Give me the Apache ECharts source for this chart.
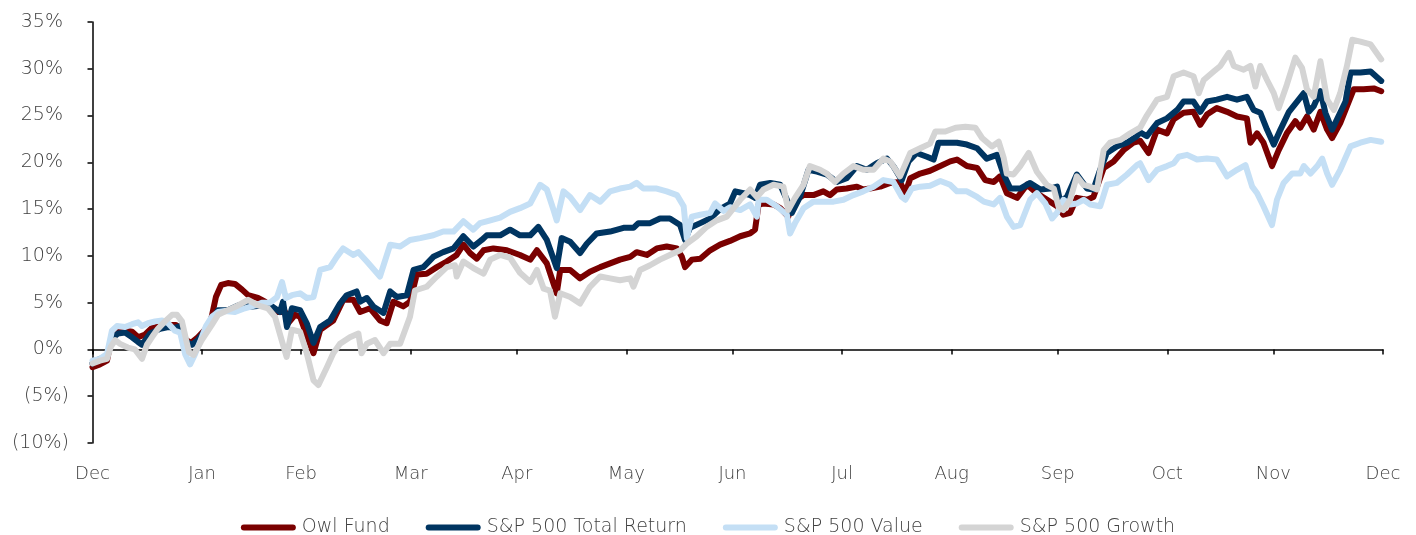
<!DOCTYPE html>
<html>
<head>
<meta charset="utf-8">
<script src="https://cdn.jsdelivr.net/npm/echarts@6/dist/echarts.min.js"></script>
<style>
  html, body { margin: 0; padding: 0; background: #ffffff; }
  #chart { width: 1416px; height: 535px; }
</style>
</head>
<body>
<div id="chart"></div>
<script>
// Cumulative return (%) by calendar day, counted from 31 Dec 2020.

// Month-end ticks and their labels
const tickDays = [0, 31, 59, 90, 120, 151, 181, 212, 243, 273, 304, 334, 365];
const tickLabels = ['Dec', 'Jan', 'Feb', 'Mar', 'Apr', 'May', 'Jun', 'Jul', 'Aug', 'Sep', 'Oct', 'Nov', 'Dec'];

// Percent ticks on the value axis
const yTicks = [-10, -5, 0, 5, 10, 15, 20, 25, 30, 35];

const seriesNames = ['Owl Fund', 'S&P 500 Total Return', 'S&P 500 Value', 'S&P 500 Growth'];

// Owl Fund
const owlDays = [0,2.1,4.1,5.5,6.9,9.2,11.2,12.9,14.9,16.8,19.1,21.4,23.6,24.8,26.5,27.9,29.8,31.8,33.5,34.9,36.4,38.3,40.3,42.3,44.0,46.8,48.8,50.8,52.5,54.5,55.3,57.3,58.7,60.6,62.5,64.4,68.1,70.9,73.8,75.7,78.5,81.3,83.2,85.1,87.9,89.8,91.7,94.5,97.4,100.2,103.0,104.9,106.8,108.7,110.6,113.4,117.2,120.9,123.8,125.7,128.5,131.3,132.3,135.1,137.9,140.7,143.6,146.4,149.2,152.1,153.9,156.8,159.6,162.4,165.3,166.7,167.6,169.5,171.9,174.7,177.5,180.3,183.2,186.0,187.4,188.4,189.8,192.6,194.5,196.8,198.3,201.1,203.9,206.7,208.6,210.5,213.3,216.2,218.0,219.9,222.8,225.6,228.4,229.9,231.3,234.1,236.9,239.8,242.6,244.5,247.3,250.2,252.5,254.9,256.7,258.6,261.5,264.3,267.1,270.0,272.8,274.6,276.5,278.4,281.3,283.1,286.0,288.8,291.6,294.4,296.3,298.7,301.1,303.9,305.8,308.6,311.4,313.3,315.2,318.0,320.9,323.7,326.5,327.5,329.4,331.2,333.6,335.5,337.8,340.2,341.6,343.5,345.4,347.3,349.2,350.6,352.9,356.7,359.5,362.4,364.5];
const owlPct = [-1.9,-1.6,-1.2,1.5,2.3,2.0,1.9,1.3,1.6,2.3,2.5,2.6,2.6,2.2,1.0,0.7,1.3,2.1,3.1,5.6,6.9,7.1,7.0,6.4,5.8,5.5,5.1,4.2,4.0,4.0,2.8,3.7,3.5,1.5,-0.4,2.1,3.1,5.3,5.3,4.0,4.4,3.1,2.8,5.1,4.6,5.1,8.0,8.1,8.8,9.4,10.1,11.2,10.3,9.7,10.6,10.8,10.6,10.1,9.6,10.6,9.2,6.0,8.5,8.5,7.6,8.3,8.8,9.2,9.6,9.9,10.4,10.1,10.8,11.0,10.8,9.9,8.8,9.6,9.7,10.6,11.2,11.6,12.1,12.4,12.8,15.5,15.6,15.5,15.1,14.2,15.8,16.5,16.5,16.9,16.5,17.1,17.2,17.4,17.1,17.2,17.4,17.8,17.9,16.7,18.3,18.8,19.1,19.6,20.1,20.3,19.6,19.4,18.1,17.9,18.5,16.7,16.2,17.6,16.7,16.0,15.3,14.4,14.6,16.2,16.0,16.3,19.4,20.1,21.3,22.1,22.3,21.0,23.5,23.1,24.6,25.3,25.4,24.0,25.1,25.8,25.4,24.9,24.7,22.1,23.1,22.1,19.6,21.3,23.1,24.4,23.7,24.9,23.5,25.4,23.5,22.6,24.2,27.8,27.8,27.9,27.6];

// S&P 500 Total Return
const totalDays = [0,2.1,4.1,5.5,7.2,9.2,11.2,12.9,14.0,16.3,19.1,21.4,23.3,24.8,26.5,28.1,29.8,31.8,33.8,35.5,38.3,41.2,45.1,48.0,50.8,53.0,53.9,55.0,56.4,58.7,60.6,62.5,64.4,67.2,70.0,71.9,74.7,75.7,77.6,79.4,82.3,84.2,86.1,88.9,90.8,93.6,96.4,99.2,102.1,104.9,107.7,110.1,111.5,115.3,118.1,120.9,123.8,126.1,128.5,131.3,132.7,135.1,137.9,139.8,142.6,146.4,150.2,153.0,154.4,157.7,160.5,163.3,166.2,167.6,169.0,171.9,174.7,177.5,180.3,181.8,184.1,186.0,187.4,188.8,191.7,194.5,196.4,197.8,200.1,202.5,204.9,207.7,210.5,213.3,216.2,219.0,221.8,224.7,226.5,228.9,230.8,233.1,236.0,237.9,239.3,242.6,244.5,247.3,250.2,252.9,255.8,257.7,259.6,262.4,265.2,268.1,270.9,272.8,273.7,275.6,278.4,281.3,283.1,285.0,286.9,289.7,292.6,295.4,296.3,298.2,301.1,303.9,306.8,308.6,311.4,313.3,315.2,318.0,320.9,323.7,326.5,328.4,330.3,332.2,334.1,336.0,338.4,340.7,342.6,344.0,345.4,347.3,348.7,350.6,352.0,354.4,355.8,358.6,361.5,364.5];
const totalPct = [-1.5,-1.0,-0.8,1.2,1.7,1.8,1.3,0.8,0.5,1.7,2.2,2.4,2.3,2.5,0.8,0.5,1.0,2.0,3.1,4.2,4.2,4.7,4.6,4.7,4.6,4.0,5.1,2.4,4.4,4.2,2.8,0.7,2.4,3.1,4.9,5.8,6.2,5.1,5.5,4.6,3.9,6.2,5.6,5.8,8.5,8.8,9.9,10.4,10.8,12.1,11.0,11.7,12.2,12.2,12.8,12.2,12.2,13.1,11.7,8.7,11.9,11.5,10.3,11.3,12.4,12.6,13.0,13.0,13.5,13.5,14.0,14.0,13.3,11.7,13.0,13.5,14.0,15.0,15.6,16.9,16.7,16.5,16.2,17.6,17.8,17.6,16.0,14.6,16.3,19.2,19.0,18.7,17.9,18.3,19.6,19.2,19.9,20.4,19.6,18.1,20.1,21.0,20.6,20.3,22.1,22.1,22.1,21.9,21.5,20.4,20.8,18.7,17.2,17.2,17.8,17.1,17.2,17.4,15.8,16.3,18.7,17.2,17.1,19.2,21.0,21.7,22.1,22.8,23.2,22.8,24.2,24.7,25.6,26.5,26.5,25.4,26.5,26.7,27.0,26.7,27.0,25.6,25.3,23.5,21.9,23.5,25.4,26.5,27.4,25.4,26.0,27.6,25.3,23.5,24.6,26.5,29.6,29.6,29.7,28.7];

// S&P 500 Value
const valueDays = [0,2.1,4.1,5.5,6.9,9.2,11.2,12.9,14.0,15.7,17.7,19.7,21.4,23.3,24.8,26.2,27.6,29.0,30.4,32.1,33.8,35.5,37.5,40.3,43.1,46.0,47.9,50.2,52.2,53.6,54.7,56.4,58.7,60.6,62.5,64.4,67.2,69.1,70.9,73.8,75.2,77.6,81.3,84.2,87.0,89.8,92.7,96.4,99.2,102.1,104.9,107.7,109.6,111.5,115.3,118.1,120.9,123.8,126.6,128.5,130.4,131.3,133.2,135.1,137.9,140.7,143.6,146.4,149.2,152.1,153.9,155.8,159.6,162.4,165.3,167.2,168.1,169.5,171.9,174.7,176.1,178.5,180.3,183.2,186.0,187.9,188.4,190.7,193.5,196.4,197.3,198.7,201.1,203.9,206.7,209.6,212.4,215.2,218.0,220.9,223.7,226.5,228.9,229.9,231.7,234.1,236.9,239.8,242.6,244.5,247.3,250.2,252.1,254.9,256.7,258.6,260.5,262.4,265.2,267.1,269.5,271.4,272.8,274.6,276.5,278.4,280.3,282.2,285.0,286.9,289.7,292.6,295.4,296.3,298.7,301.1,303.9,305.8,307.2,309.6,312.4,315.2,318.0,320.9,323.7,326.1,328.0,329.4,331.2,333.6,335.0,336.9,339.3,341.6,342.6,344.5,346.4,347.8,349.2,350.6,352.9,355.8,358.6,361.5,364.5];
const valuePct = [-1.2,-1.0,-0.5,2.0,2.5,2.4,2.7,2.9,2.5,2.8,3.0,3.1,2.8,2.0,1.8,-0.5,-1.6,-0.5,0.8,2.5,3.5,4.0,4.1,4.0,4.4,4.7,5.0,5.0,5.6,7.2,5.5,5.8,6.0,5.5,5.6,8.5,8.8,9.9,10.8,10.1,10.4,9.4,7.8,11.2,11.0,11.7,11.9,12.2,12.6,12.6,13.7,12.8,13.5,13.7,14.1,14.7,15.1,15.6,17.6,17.1,14.9,13.8,16.9,16.3,14.9,16.5,15.8,16.9,17.2,17.4,17.8,17.2,17.2,16.9,16.5,15.3,11.9,14.2,14.4,14.6,15.6,14.8,15.2,14.9,15.5,14.2,16.0,16.0,15.3,14.4,12.4,13.5,15.1,15.8,15.8,15.8,16.0,16.5,16.9,17.4,18.1,17.9,16.3,16.0,17.2,17.4,17.5,18.0,17.6,16.9,16.9,16.3,15.8,15.5,16.2,14.2,13.1,13.3,16.0,16.7,15.6,14.0,14.6,16.0,15.5,15.6,16.0,15.5,15.3,17.6,17.8,18.7,19.7,19.9,18.1,19.2,19.6,19.9,20.6,20.8,20.3,20.4,20.3,18.5,19.2,19.7,17.4,16.7,15.3,13.3,16.0,17.8,18.8,18.8,19.6,18.8,19.6,20.4,18.8,17.6,19.2,21.7,22.1,22.4,22.2];

// S&P 500 Growth
const growthDays = [0,2.1,4.1,5.2,6.4,7.8,10.0,12.0,14.0,15.4,16.8,18.5,20.5,22.5,23.9,25.3,26.5,27.3,28.6,30.9,33.7,35.5,38.3,41.2,44.0,46.8,49.6,51.6,53.5,54.9,56.4,58.7,60.6,62.5,63.9,66.3,68.1,70.0,72.8,75.2,76.1,77.6,79.9,82.3,84.2,87.0,89.8,91.2,94.5,97.4,100.2,102.5,103.0,104.9,107.7,110.6,112.5,115.3,118.1,120.9,123.8,125.7,127.6,129.4,130.8,132.3,135.1,137.9,140.7,143.6,146.4,149.2,152.1,153.0,154.9,157.7,160.5,163.3,166.2,168.1,170.9,173.7,176.6,179.4,183.2,186.0,187.9,189.8,192.6,195.4,196.8,198.7,201.1,202.9,205.8,207.7,210.0,212.4,215.2,218.0,220.9,223.7,225.6,228.4,231.3,234.1,236.9,238.4,241.2,244.1,246.9,249.7,251.6,254.4,256.3,257.7,258.6,260.5,262.4,264.8,267.1,269.9,271.9,273.2,274.6,276.5,278.4,280.3,282.2,284.1,286.0,287.8,290.7,293.5,296.3,298.2,301.1,303.9,305.8,308.6,311.4,312.9,314.3,317.1,319.0,321.4,322.8,325.6,327.5,328.9,330.3,332.2,334.1,335.5,337.8,340.2,342.1,343.5,345.4,347.3,349.2,351.1,352.9,354.8,356.3,358.6,361.5,364.5];
const growthPct = [-1.5,-1.2,-1.0,0.3,1.0,0.6,0.2,0.0,-1.0,0.5,1.3,2.2,3.0,3.7,3.7,3.0,1.0,-0.3,-0.6,1.0,2.6,3.7,4.2,4.7,5.3,4.7,4.4,3.5,1.0,-0.8,2.1,1.9,-0.4,-3.3,-3.8,-1.9,-0.4,0.6,1.3,1.7,-0.4,0.6,1.0,-0.4,0.6,0.6,3.5,6.3,6.7,7.8,8.8,9.0,7.8,9.4,8.7,8.1,9.6,10.1,9.8,8.2,7.2,8.5,6.5,6.3,3.5,6.0,5.6,4.9,6.7,7.8,7.6,7.4,7.6,6.7,8.5,9.0,9.6,10.1,10.6,11.3,12.1,13.1,13.8,14.2,16.0,17.1,16.3,17.1,17.6,17.4,14.9,16.2,17.6,19.6,19.2,18.8,17.9,18.8,19.6,19.2,19.2,20.4,20.1,18.5,21.0,21.5,22.0,23.3,23.3,23.7,23.8,23.7,22.6,21.7,22.2,20.5,18.8,18.7,19.6,21.0,19.0,17.6,17.2,15.3,14.9,16.0,18.5,17.6,17.4,17.1,21.3,22.1,22.4,23.1,23.7,25.0,26.7,27.0,29.2,29.6,29.2,27.4,28.8,29.7,30.3,31.7,30.3,29.9,30.3,28.1,30.3,28.8,27.4,25.8,28.3,31.2,30.1,27.8,27.0,30.8,26.7,25.6,27.4,30.3,33.1,32.9,32.6,31.0];

const seriesDays = [owlDays, totalDays, valueDays, growthDays];
const seriesPct = [owlPct, totalPct, valuePct, growthPct];
const seriesColors = ['#7a0000', '#003561', '#c4dff5', '#d4d4d4'];

const FONT = '"DejaVu Sans", sans-serif';
const TEXT_COLOR = '#404040';

const chart = echarts.init(document.getElementById('chart'), null, { renderer: 'canvas' });

// negatives in parentheses; positives keep a trailing space so the digits line up
const pctLabel = v => (v < 0 ? '(' + Math.abs(v) + '%)' : v + '%\u00a0');
const capsule = 'path://M3,0 L52,0 A3,3 0 0 1 52,6 L3,6 A3,3 0 0 1 3,0 Z';

chart.setOption({
  animation: false,
  backgroundColor: '#ffffff',
  grid: { left: 92.5, right: 33, top: 22, bottom: 92, containLabel: false, outerBoundsMode: 'none' },
  legend: {
    top: 513,
    left: 'center',
    itemWidth: 57,
    itemHeight: 6,
    itemGap: 36,
    icon: capsule,
    textStyle: { fontFamily: FONT, fontSize: 19, fontWeight: 200, color: TEXT_COLOR },
    data: seriesNames
  },
  xAxis: [
    {
      // axis line drawn across the zero level with month-end ticks
      type: 'value', min: 0, max: 365,
      axisLine: { show: true, onZero: true, lineStyle: { color: '#000', width: 1.5 } },
      axisTick: { show: true, inside: false, length: 5, customValues: tickDays, lineStyle: { color: '#000', width: 1.5 } },
      axisLabel: { show: false },
      splitLine: { show: false }
    },
    {
      // month names along the bottom edge
      type: 'value', min: 0, max: 365, position: 'bottom',
      axisLine: { show: false, onZero: false },
      axisTick: { show: false },
      splitLine: { show: false },
      axisLabel: {
        show: true, margin: 22, customValues: tickDays,
        fontFamily: FONT, fontSize: 18, fontWeight: 200, color: TEXT_COLOR,
        formatter: v => tickLabels[tickDays.indexOf(Math.round(v))] || ''
      }
    }
  ],
  yAxis: {
    type: 'value', min: -10, max: 35, interval: 5,
    axisLine: { show: true, lineStyle: { color: '#000', width: 1.5 } },
    axisTick: { show: true, inside: false, length: 5, customValues: yTicks, lineStyle: { color: '#000', width: 1.5 } },
    splitLine: { show: false },
    axisLabel: {
      margin: 23.5, align: 'right', customValues: yTicks,
      fontFamily: FONT, fontSize: 19, fontWeight: 200, color: TEXT_COLOR,
      formatter: pctLabel
    }
  },
  series: seriesNames.map((name, k) => ({
    name,
    type: 'line',
    xAxisIndex: 0,
    showSymbol: false,
    symbol: 'none',
    color: seriesColors[k],
    lineStyle: { width: 6, color: seriesColors[k], cap: 'round', join: 'round' },
    data: seriesDays[k].map((d, i) => [d, seriesPct[k][i]])
  }))
});
</script>
</body>
</html>
